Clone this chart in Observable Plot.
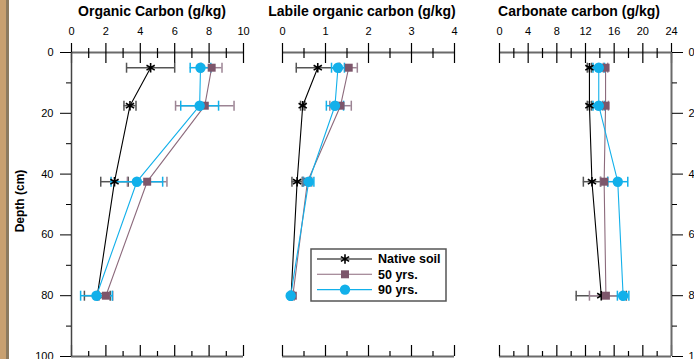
<!DOCTYPE html>
<html><head><meta charset="utf-8">
<script src="https://cdn.jsdelivr.net/npm/d3@7"></script>
<script src="https://cdn.jsdelivr.net/npm/@observablehq/plot@0.6"></script>
<style>
body{margin:0;background:#fff;}
#wrap{position:relative;width:694px;height:359px;overflow:hidden;font-family:"Liberation Sans",Arial,sans-serif;color:#000;}
#wrap svg.layer{position:absolute;left:0;top:0;background:transparent;overflow:visible;}
.title{position:absolute;top:3px;font-weight:bold;font-size:14px;white-space:nowrap;transform:translateX(-50%);}
.strip{position:absolute;top:0;height:359px;}
#ylab{position:absolute;left:20px;top:201px;font-weight:bold;font-size:12px;white-space:nowrap;transform:translate(-50%,-50%) rotate(-90deg);}
</style></head><body><div id="wrap"></div>
<script>
// ---- data ----
const depths = [5, 17.5, 42.5, 80];
const seriesNames = ["Native soil", "50 yrs.", "90 yrs."];
const depthTicks = [0, 20, 40, 60, 80, 100];
const depthMinor = [10, 30, 50, 70, 90];

// Organic carbon (g/kg)
const ocNative = [4.6, 3.4, 2.5, 1.5];
const ocNativeErr = [1.4, 0.35, 0.8, 0.75];
const oc50 = [8.15, 7.75, 4.4, 2.0];
const oc50Err = [0.6, 1.7, 1.15, 0.4];
const oc90 = [7.5, 7.45, 3.8, 1.45];
const oc90Err = [0.6, 1.1, 1.5, 0.92];
const ocTicks = [0, 2, 4, 6, 8, 10];
const ocMinor = [1, 3, 5, 7, 9];

// Labile organic carbon (g/kg)
const labNative = [0.82, 0.47, 0.34, 0.2];
const labNativeErr = [0.5, 0.05, 0.12, 0.03];
const lab50 = [1.54, 1.35, 0.58, 0.24];
const lab50Err = [0.2, 0.25, 0.1, 0.03];
const lab90 = [1.29, 1.22, 0.61, 0.19];
const lab90Err = [0.15, 0.2, 0.12, 0.03];
const labTicks = [0, 1, 2, 3, 4];
const labMinor = [0.5, 1.5, 2.5, 3.5];

// Carbonate carbon (g/kg)
const caNative = [12.55, 12.55, 12.9, 14.2];
const caNativeErr = [0.3, 0.3, 1.2, 3.5];
const ca50 = [14.8, 14.8, 14.6, 14.85];
const ca50Err = [0.3, 0.4, 0.5, 2.3];
const ca90 = [13.85, 13.85, 16.5, 17.25];
const ca90Err = [0.8, 0.8, 1.4, 0.8];
const caTicks = [0, 4, 8, 12, 16, 20, 24];
const caMinor = [2, 6, 10, 14, 18, 22];

// ---- styling ----
const W = 694, H = 359;
const colors = ["#000000", "#7d566b", "#12b0ea"];
const lineColors = ["#000000", "#8c6a7c", "#12b0ea"];
const errColors = ["#555555", "#9c8494", "#12b0ea"];
const symbols = ["asterisk", "square", "circle"];
const font = '"Liberation Sans", Arial, sans-serif';
const capSymbol = {draw(ctx) { ctx.moveTo(0, -5); ctx.lineTo(0, 5); }};
const fmt = d => String(d);

const wrap = document.getElementById("wrap");
const strip1 = document.createElement("div"); strip1.className = "strip"; strip1.style.cssText += "left:0;width:6px;background:#c8a070;"; wrap.appendChild(strip1);
const strip2 = document.createElement("div"); strip2.className = "strip"; strip2.style.cssText += "left:6px;width:3px;background:#8c7a5f;"; wrap.appendChild(strip2);

function panel({title, titleX, values, errs, domain, ticks, minor, ml, mr, yAxis}) {
  const marks = [
    Plot.ruleY([0], {stroke: "#6a6a6a", strokeWidth: 2}),
    Plot.ruleY([100], {stroke: "#6a6a6a", strokeWidth: 2}),
    Plot.axisX({anchor: "top", ticks, tickSize: 20, dy: 10, tickFormat: () => "", label: null, strokeWidth: 1.2}),
    Plot.axisX({anchor: "top", ticks: minor, tickSize: 10, dy: 5, tickFormat: () => "", label: null, strokeWidth: 1.2}),
    Plot.axisX({anchor: "top", ticks, tickSize: 0, tickPadding: 18, tickFormat: fmt, label: null, fontSize: 11}),
    Plot.axisX({anchor: "bottom", ticks, tickSize: 11, dy: -11, tickFormat: () => "", label: null, strokeWidth: 1.2}),
    Plot.axisX({anchor: "bottom", ticks: minor, tickSize: 5, dy: -5, tickFormat: () => "", label: null, strokeWidth: 1.2})
  ];
  if (yAxis === "left") {
    marks.push(
      Plot.ruleX([domain[0]], {stroke: "#444", strokeWidth: 1.5}),
      Plot.axisY({anchor: "left", ticks: depthTicks, tickSize: 11, tickPadding: 7, tickFormat: fmt, label: null, fontSize: 11}),
      Plot.axisY({anchor: "left", ticks: depthMinor, tickSize: 5, tickFormat: () => "", label: null})
    );
  } else if (yAxis === "right") {
    marks.push(
      Plot.ruleX([domain[1]], {stroke: "#6a6a6a", strokeWidth: 2}),
      Plot.axisY({anchor: "right", ticks: depthTicks, tickSize: 11, tickPadding: 6, tickFormat: fmt, label: null, fontSize: 11}),
      Plot.axisY({anchor: "right", ticks: depthMinor, tickSize: 5, tickFormat: () => "", label: null})
    );
  }
  const seriesRows = seriesNames.map((s, si) => depths.map((d, i) => ({series: s, depth: d, value: values[si][i], err: errs[si][i]})));
  seriesRows.forEach((rows, si) => {
    marks.push(
      Plot.ruleY(rows, {y: "depth", x1: d => d.value - d.err, x2: d => d.value + d.err, stroke: errColors[si], strokeWidth: 1.5}),
      Plot.dot(rows, {x: d => d.value - d.err, y: "depth", symbol: capSymbol, stroke: errColors[si], fill: "none", strokeWidth: 1.5}),
      Plot.dot(rows, {x: d => d.value + d.err, y: "depth", symbol: capSymbol, stroke: errColors[si], fill: "none", strokeWidth: 1.5})
    );
  });
  seriesRows.forEach((rows, si) => {
    marks.push(Plot.line(rows, {x: "value", y: "depth", stroke: lineColors[si], strokeWidth: 1.1}));
  });
  seriesRows.forEach((rows, si) => {
    if (symbols[si] === "asterisk")
      marks.push(Plot.dot(rows, {x: "value", y: "depth", symbol: "asterisk", r: 4.5, stroke: colors[si], strokeWidth: 1.6}));
    else
      marks.push(Plot.dot(rows, {x: "value", y: "depth", symbol: symbols[si], r: si === 1 ? 4.5 : 5.2, fill: colors[si], stroke: "none"}));
  });
  const svg = Plot.plot({
    width: W, height: H,
    marginTop: 52, marginBottom: 3, marginLeft: ml, marginRight: mr,
    x: {domain, axis: null},
    y: {domain: [0, 100], reverse: true, axis: null},
    style: {fontFamily: font, fontSize: "11px", color: "#000", background: "transparent", overflow: "visible"},
    marks
  });
  svg.classList.add("layer");
  wrap.appendChild(svg);
  const t = document.createElement("div");
  t.className = "title"; t.textContent = title; t.style.left = titleX + "px";
  wrap.appendChild(t);
}

panel({title: "Organic Carbon (g/kg)", titleX: 152, values: [ocNative, oc50, oc90], errs: [ocNativeErr, oc50Err, oc90Err],
  domain: [0, 10], ticks: ocTicks, minor: ocMinor, ml: 71, mr: W - 243, yAxis: "left"});
panel({title: "Labile organic carbon (g/kg)", titleX: 362, values: [labNative, lab50, lab90], errs: [labNativeErr, lab50Err, lab90Err],
  domain: [0, 4], ticks: labTicks, minor: labMinor, ml: 282, mr: W - 454, yAxis: null});
panel({title: "Carbonate carbon (g/kg)", titleX: 579, values: [caNative, ca50, ca90], errs: [caNativeErr, ca50Err, ca90Err],
  domain: [0, 24], ticks: caTicks, minor: caMinor, ml: 499, mr: W - 671, yAxis: "right"});

const yl = document.createElement("div"); yl.id = "ylab"; yl.textContent = "Depth (cm)"; wrap.appendChild(yl);

// legend
const lg = d3.create("svg").attr("width", 138).attr("height", 54)
  .style("position", "absolute").style("left", "310px").style("top", "248px").style("overflow", "visible");
lg.append("rect").attr("x", 1).attr("y", 1).attr("width", 135).attr("height", 52).attr("fill", "#fff").attr("stroke", "#555").attr("stroke-width", 1.5);
const dsym = {asterisk: d3.symbolAsterisk, square: d3.symbolSquare, circle: d3.symbolCircle};
seriesNames.forEach((s, i) => {
  const g = lg.append("g").attr("transform", `translate(0,${11 + i * 15.3})`);
  g.append("line").attr("x1", 7).attr("x2", 62).attr("stroke", lineColors[i]).attr("stroke-width", 1.1);
  const size = symbols[i] === "circle" ? Math.PI * 5.2 * 5.2 : Math.PI * 4.5 * 4.5;
  const p = g.append("path").attr("transform", "translate(35,0)").attr("d", d3.symbol(dsym[symbols[i]], size)());
  if (symbols[i] === "asterisk") p.attr("fill", "none").attr("stroke", colors[i]).attr("stroke-width", 1.6);
  else p.attr("fill", colors[i]);
  g.append("text").attr("x", 68).attr("y", 0).attr("dy", "0.35em").attr("font-family", font).attr("font-weight", "bold").attr("font-size", 12.5).text(s);
});
wrap.appendChild(lg.node());
</script>
</body></html>
